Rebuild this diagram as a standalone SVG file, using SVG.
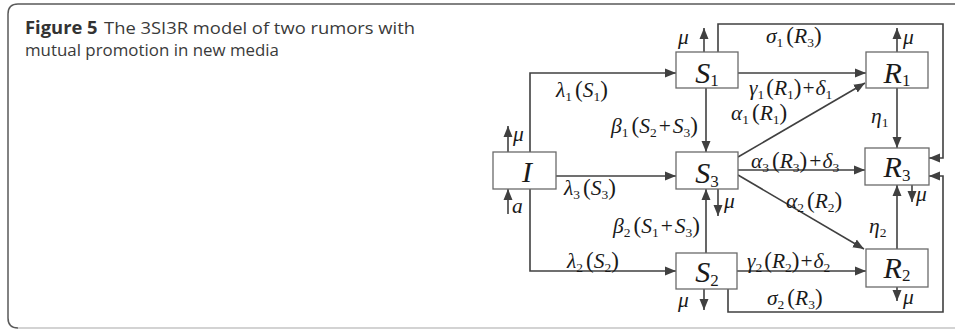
<svg xmlns="http://www.w3.org/2000/svg" width="955" height="330" viewBox="0 0 955 330">
<style>
.frame{fill:none;stroke:#5a5a5a;stroke-width:1.5}
.ln{fill:none;stroke:#404040;stroke-width:1.6}
.box{fill:#fff;stroke:#6a6a6a;stroke-width:1.3}
.m{font-family:"Liberation Serif","Times New Roman",serif;font-size:21.5px;fill:#1a1a1a}
.i{font-style:italic}
.s{font-size:13.5px}
.p{font-size:23px}
.nd{font-family:"Liberation Serif","Times New Roman",serif;font-size:30px;fill:#1a1a1a;text-anchor:middle}
.ns{font-size:17px;font-style:normal}
.t{font-family:"Open Sans","Noto Sans",sans-serif;font-size:17px;fill:#3a3a3a}
</style>
<defs>
<marker id="ah" markerWidth="12" markerHeight="10" refX="11" refY="5" orient="auto" markerUnits="userSpaceOnUse">
<path d="M0,0.5 L11,5 L0,9.5 Z" fill="#404040"/>
</marker>
</defs>
<rect width="955" height="330" fill="#fff"/>
<path class="frame" d="M970,4 H18 Q8,4 8,14 V318 Q8,328 18,328"/>
<path d="M18,328 H970" fill="none" stroke="#c4c4c4" stroke-width="1.5"/>
<text class="t" x="25" y="34" textLength="390" lengthAdjust="spacingAndGlyphs"><tspan font-weight="bold" fill="#333">Figure 5</tspan><tspan dx="6">The 3SI3R model of two rumors with</tspan></text>
<text class="t" x="25" y="56" textLength="254" lengthAdjust="spacingAndGlyphs">mutual promotion in new media</text>
<g id="connectors">
<polyline class="ln" points="530,152 530,73 676,73" marker-end="url(#ah)"/>
<polyline class="ln" points="530,189 530,271 676,271" marker-end="url(#ah)"/>
<line class="ln" x1="556" y1="176" x2="676" y2="176" marker-end="url(#ah)"/>
<line class="ln" x1="706" y1="88" x2="706" y2="152" marker-end="url(#ah)"/>
<line class="ln" x1="706" y1="253" x2="706" y2="189" marker-end="url(#ah)"/>
<line class="ln" x1="738" y1="73" x2="866" y2="73" marker-end="url(#ah)"/>
<line class="ln" x1="738" y1="157" x2="865" y2="83" marker-end="url(#ah)"/>
<line class="ln" x1="738" y1="170" x2="865" y2="170" marker-end="url(#ah)"/>
<line class="ln" x1="738" y1="175" x2="864" y2="249" marker-end="url(#ah)"/>
<line class="ln" x1="737" y1="271" x2="866" y2="271" marker-end="url(#ah)"/>
<line class="ln" x1="897" y1="88" x2="897" y2="148" marker-end="url(#ah)"/>
<line class="ln" x1="897" y1="249" x2="897" y2="185" marker-end="url(#ah)"/>
<polyline class="ln" points="718,52 718,24 943,24 943,158 929,158" marker-end="url(#ah)"/>
<polyline class="ln" points="728,289 728,312 943,312 943,176 929,176" marker-end="url(#ah)"/>
<line class="ln" x1="704" y1="52" x2="704" y2="28" marker-end="url(#ah)"/>
<line class="ln" x1="897" y1="52" x2="897" y2="28" marker-end="url(#ah)"/>
<line class="ln" x1="508" y1="152" x2="508" y2="126" marker-end="url(#ah)"/>
<line class="ln" x1="508" y1="214" x2="508" y2="189" marker-end="url(#ah)"/>
<line class="ln" x1="718" y1="189" x2="718" y2="216" marker-end="url(#ah)"/>
<line class="ln" x1="912" y1="185" x2="912" y2="202" marker-end="url(#ah)"/>
<line class="ln" x1="704" y1="289" x2="704" y2="310" marker-end="url(#ah)"/>
<line class="ln" x1="897" y1="287" x2="897" y2="301" marker-end="url(#ah)"/>
</g>
<g id="node-I"><rect class="box" x="493" y="152" width="63" height="37"/><text class="nd" x="527" y="182"><tspan class="i">I</tspan></text></g>
<g id="node-S1"><rect class="box" x="676" y="52" width="62" height="36"/><text class="nd" x="707" y="83"><tspan class="i">S</tspan><tspan class="ns" dy="3">1</tspan></text></g>
<g id="node-S3"><rect class="box" x="676" y="152" width="62" height="37"/><text class="nd" x="707" y="183"><tspan class="i">S</tspan><tspan class="ns" dy="4">3</tspan></text></g>
<g id="node-S2"><rect class="box" x="676" y="253" width="61" height="36"/><text class="nd" x="707" y="282"><tspan class="i">S</tspan><tspan class="ns" dy="4">2</tspan></text></g>
<g id="node-R1"><rect class="box" x="866" y="52" width="62" height="36"/><text class="nd" x="897" y="83"><tspan class="i">R</tspan><tspan class="ns" dy="3">1</tspan></text></g>
<g id="node-R3"><rect class="box" x="865" y="148" width="64" height="37"/><text class="nd" x="897" y="177"><tspan class="i">R</tspan><tspan class="ns" dy="4">3</tspan></text></g>
<g id="node-R2"><rect class="box" x="866" y="249" width="62" height="38"/><text class="nd" x="897" y="278"><tspan class="i">R</tspan><tspan class="ns" dy="3">2</tspan></text></g>
<g id="labels">
<text class="m" x="556" y="97"><tspan class="i">λ</tspan><tspan class="s" dy="4">1</tspan><tspan class="p" dy="-4" dx="3">(</tspan><tspan class="i">S</tspan><tspan class="s" dy="4">1</tspan><tspan class="p" dy="-4">)</tspan></text>
<text class="m" x="766" y="43"><tspan class="i">σ</tspan><tspan class="s" dy="4">1</tspan><tspan class="p" dy="-4" dx="3">(</tspan><tspan class="i">R</tspan><tspan class="s" dy="4">3</tspan><tspan class="p" dy="-4">)</tspan></text>
<text class="m" x="749" y="95"><tspan class="i">γ</tspan><tspan class="s" dy="4">1</tspan><tspan class="p" dy="-4" dx="2">(</tspan><tspan class="i">R</tspan><tspan class="s" dy="4">1</tspan><tspan class="p" dy="-4">)</tspan><tspan dx="1">+</tspan><tspan class="i" dx="1">δ</tspan><tspan class="s" dy="4">1</tspan></text>
<text class="m" x="731" y="120"><tspan class="i">α</tspan><tspan class="s" dy="4">1</tspan><tspan class="p" dy="-4" dx="3">(</tspan><tspan class="i">R</tspan><tspan class="s" dy="4">1</tspan><tspan class="p" dy="-4">)</tspan></text>
<text class="m" x="611" y="133"><tspan class="i">β</tspan><tspan class="s" dy="4">1</tspan><tspan class="p" dy="-4" dx="3">(</tspan><tspan class="i">S</tspan><tspan class="s" dy="4">2</tspan><tspan dy="-4" dx="2">+</tspan><tspan class="i" dx="2">S</tspan><tspan class="s" dy="4">3</tspan><tspan class="p" dy="-4">)</tspan></text>
<text class="m" x="871" y="123" font-size="24"><tspan class="i">η</tspan><tspan class="s" dy="4">1</tspan></text>
<text class="m" x="513" y="141"><tspan class="i">μ</tspan></text>
<text class="m" x="751" y="168"><tspan class="i">α</tspan><tspan class="s" dy="4">3</tspan><tspan class="p" dy="-4" dx="3">(</tspan><tspan class="i">R</tspan><tspan class="s" dy="4">3</tspan><tspan class="p" dy="-4">)</tspan><tspan dx="2">+</tspan><tspan class="i" dx="1">δ</tspan><tspan class="s" dy="4">3</tspan></text>
<text class="m" x="564" y="195"><tspan class="i">λ</tspan><tspan class="s" dy="4">3</tspan><tspan class="p" dy="-4" dx="3">(</tspan><tspan class="i">S</tspan><tspan class="s" dy="4">3</tspan><tspan class="p" dy="-4">)</tspan></text>
<text class="m" x="724" y="208"><tspan class="i">μ</tspan></text>
<text class="m" x="786" y="208"><tspan class="i">α</tspan><tspan class="s" dy="4">2</tspan><tspan class="p" dy="-4" dx="3">(</tspan><tspan class="i">R</tspan><tspan class="s" dy="4">2</tspan><tspan class="p" dy="-4">)</tspan></text>
<text class="m" x="916" y="201"><tspan class="i">μ</tspan></text>
<text class="m" x="512" y="213" font-size="23"><tspan class="i">a</tspan></text>
<text class="m" x="613" y="233"><tspan class="i">β</tspan><tspan class="s" dy="4">2</tspan><tspan class="p" dy="-4" dx="3">(</tspan><tspan class="i">S</tspan><tspan class="s" dy="4">1</tspan><tspan dy="-4" dx="2">+</tspan><tspan class="i" dx="2">S</tspan><tspan class="s" dy="4">3</tspan><tspan class="p" dy="-4">)</tspan></text>
<text class="m" x="869" y="233" font-size="27"><tspan class="i">η</tspan><tspan class="s" font-size="16" dy="4">2</tspan></text>
<text class="m" x="567" y="268"><tspan class="i">λ</tspan><tspan class="s" dy="4">2</tspan><tspan class="p" dy="-4" dx="3">(</tspan><tspan class="i">S</tspan><tspan class="s" dy="4">2</tspan><tspan class="p" dy="-4">)</tspan></text>
<text class="m" x="747" y="268"><tspan class="i">γ</tspan><tspan class="s" dy="4">2</tspan><tspan class="p" dy="-4" dx="2">(</tspan><tspan class="i">R</tspan><tspan class="s" dy="4">2</tspan><tspan class="p" dy="-4">)</tspan><tspan dx="1">+</tspan><tspan class="i" dx="1">δ</tspan><tspan class="s" dy="4">2</tspan></text>
<text class="m" x="767" y="305"><tspan class="i">σ</tspan><tspan class="s" dy="4">2</tspan><tspan class="p" dy="-4" dx="3">(</tspan><tspan class="i">R</tspan><tspan class="s" dy="4">3</tspan><tspan class="p" dy="-4">)</tspan></text>
<text class="m" x="678" y="307"><tspan class="i">μ</tspan></text>
<text class="m" x="903" y="304"><tspan class="i">μ</tspan></text>
<text class="m" x="678" y="44"><tspan class="i">μ</tspan></text>
<text class="m" x="903" y="44"><tspan class="i">μ</tspan></text>
</g>
</svg>
